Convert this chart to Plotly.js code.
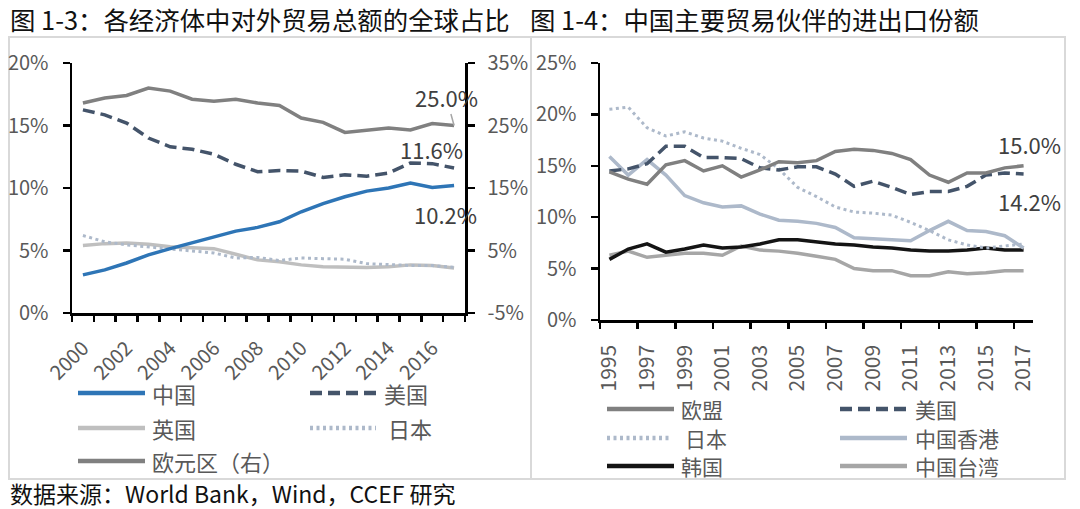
<!DOCTYPE html>
<html><head><meta charset="utf-8">
<script src="https://cdn.plot.ly/plotly-3.0.1.min.js"></script>
<style>html,body{margin:0;padding:0;background:#fff}</style>
</head><body><div id="chart" style="width:1080px;height:509px"></div>
<script>
// ---------- Data (values in %) ----------
const years1 = [2000,2001,2002,2003,2004,2005,2006,2007,2008,2009,2010,2011,2012,2013,2014,2015,2016,2017];
const china  = [3.05,3.45,4.0,4.65,5.15,5.6,6.1,6.55,6.85,7.3,8.1,8.75,9.3,9.75,10.0,10.4,10.05,10.2];
const usa1   = [16.25,15.85,15.2,14.0,13.3,13.1,12.7,11.9,11.3,11.4,11.35,10.85,11.05,10.95,11.2,12.0,11.95,11.6];
const uk     = [5.4,5.55,5.6,5.5,5.3,5.2,5.15,4.7,4.25,4.1,3.85,3.7,3.65,3.65,3.7,3.85,3.8,3.6];
const japan1 = [6.2,5.7,5.45,5.3,5.1,5.0,4.8,4.4,4.45,4.2,4.4,4.35,4.3,3.95,3.85,3.8,3.8,3.65];
const euro   = [28.6,29.4,29.8,31.0,30.5,29.2,28.9,29.2,28.6,28.2,26.2,25.5,23.9,24.2,24.6,24.3,25.3,25.0];
const names1 = ['中国','美国','英国','日本','欧元区（右）'];
const xLabels1 = ['2000','2002','2004','2006','2008','2010','2012','2014','2016'];
const yLabels1 = ['0%','5%','10%','15%','20%'];
const y2Labels1 = ['-5%','5%','15%','25%','35%'];

const years2 = [1995,1996,1997,1998,1999,2000,2001,2002,2003,2004,2005,2006,2007,2008,2009,2010,2011,2012,2013,2014,2015,2016,2017];
const eu     = [14.4,13.7,13.2,15.1,15.5,14.5,15.0,13.9,14.6,15.4,15.3,15.5,16.4,16.6,16.5,16.2,15.6,14.1,13.4,14.3,14.3,14.8,15.0];
const usa2   = [14.5,14.7,15.2,16.9,16.9,15.8,15.8,15.7,14.8,14.6,14.9,14.9,14.2,13.0,13.5,12.9,12.2,12.5,12.5,13.0,14.1,14.3,14.2];
const japan2 = [20.5,20.7,18.7,17.9,18.3,17.7,17.4,16.7,16.1,14.7,12.9,12.0,11.0,10.5,10.4,10.2,9.5,8.7,7.8,7.3,7.0,7.2,7.4];
const hk     = [15.9,14.1,15.6,14.1,12.1,11.4,11.0,11.1,10.3,9.7,9.6,9.4,9.0,8.0,7.9,7.8,7.7,8.7,9.6,8.7,8.6,8.2,7.0];
const korea  = [5.9,6.9,7.4,6.6,6.9,7.3,7.0,7.1,7.4,7.8,7.8,7.6,7.4,7.3,7.1,7.0,6.8,6.7,6.7,6.8,7.0,6.8,6.8];
const taiwan = [6.3,6.7,6.1,6.3,6.5,6.5,6.3,7.2,6.8,6.7,6.5,6.2,5.9,5.0,4.8,4.8,4.3,4.3,4.7,4.5,4.6,4.8,4.8];
const names2 = ['欧盟','美国','日本','中国香港','韩国','中国台湾'];
const xLabels2 = ['1995','1997','1999','2001','2003','2005','2007','2009','2011','2013','2015','2017'];
const yLabels2 = ['0%','5%','10%','15%','20%','25%'];

const title1 = '图 1-3：各经济体中对外贸易总额的全球占比';
const title2 = '图 1-4：中国主要贸易伙伴的进出口份额';
const source = '数据来源：World Bank，Wind，CCEF 研究';

// ---------- Styling ----------
const W = 1080, H = 509;
const FONT = '"Noto Sans CJK SC", "Noto Sans", sans-serif';
const TICKC = '#595959';
const px = v => v / W, py = v => 1 - v / H;
const DASH = '12px,6px', DOT = '3px,3.5px';

const st = {
  china:  {color:'#2e75b6', dash:'solid'},
  usa:    {color:'#44546a', dash:DASH},
  uk:     {color:'#bfbfbf', dash:'solid'},
  japan:  {color:'#adb9ca', dash:DOT},
  euro:   {color:'#808080', dash:'solid'},
  hk:     {color:'#adb9ca', dash:'solid'},
  korea:  {color:'#141414', dash:'solid'},
  taiwan: {color:'#a6a6a6', dash:'solid'}
};

function line(x, y, s, xa, ya, name, w) {
  return {x:x, y:y, xaxis:xa, yaxis:ya, name:name, mode:'lines', type:'scatter',
          line:{color:s.color, width:w || 3.5, dash:s.dash}, showlegend:false, hoverinfo:'x+y+name'};
}

const data = [
  line(years1, euro, st.euro, 'x', 'y2', names1[4]),
  line(years1, uk, st.uk, 'x', 'y', names1[2]),
  line(years1, japan1, st.japan, 'x', 'y', names1[3], 3),
  line(years1, usa1, st.usa, 'x', 'y', names1[1]),
  line(years1, china, st.china, 'x', 'y', names1[0]),

  line(years2, taiwan, st.taiwan, 'x2', 'y3', names2[5]),
  line(years2, korea, st.korea, 'x2', 'y3', names2[4]),
  line(years2, hk, st.hk, 'x2', 'y3', names2[3]),
  line(years2, japan2, st.japan, 'x2', 'y3', names2[2], 3),
  line(years2, usa2, st.usa, 'x2', 'y3', names2[1]),
  line(years2, eu, st.euro, 'x2', 'y3', names2[0])
];

const tickFont = {family:FONT, size:20, color:TICKC};
const bound1 = years1.map(v => v - 0.5).concat([years1[years1.length-1] + 0.5]);
const bound2 = years2.filter((v,i) => i % 2 === 0).map(v => v - 0.5);

const yAxisCommon = {
  showline:true, linecolor:'#000', linewidth:2.5, showgrid:false, zeroline:false,
  ticks:'outside', ticklen:7, tickwidth:2.5, tickcolor:'#000', tickmode:'array',
  tickfont:{family:FONT, size:20, color:TICKC}, ticklabelstandoff:10, fixedrange:true
};

const layout = {
  width:W, height:H, margin:{l:0, r:0, t:0, b:0},
  paper_bgcolor:'#fff', plot_bgcolor:'rgba(0,0,0,0)', showlegend:false,
  xaxis:{
    domain:[px(72), px(465)], anchor:'y', range:[1999.5, 2017.5],
    tickmode:'array', tickvals:xLabels1.map(Number), ticktext:xLabels1, tickangle:-45,
    ticks:'outside', ticklen:6, tickcolor:'rgba(0,0,0,0)', tickfont:tickFont, ticklabelstandoff:7,
    showline:true, linecolor:'#000', linewidth:2.5, showgrid:false, zeroline:false, fixedrange:true,
    minor:{tickmode:'array', tickvals:bound1, ticks:'outside', ticklen:6, tickwidth:2.5, tickcolor:'#000', showgrid:false}
  },
  yaxis:Object.assign({}, yAxisCommon, {
    domain:[py(313), py(63)], anchor:'x', range:[0, 20],
    tickvals:yLabels1.map(parseFloat), ticktext:yLabels1
  }),
  yaxis2:Object.assign({}, yAxisCommon, {
    overlaying:'y', side:'right', anchor:'x', range:[-5, 35],
    tickvals:y2Labels1.map(parseFloat), ticktext:y2Labels1, ticklabelstandoff:9
  }),
  xaxis2:{
    domain:[px(600), px(1033)], anchor:'y3', range:[1994.5, 2017.5],
    tickmode:'array', tickvals:xLabels2.map(Number), ticktext:xLabels2, tickangle:-90,
    ticks:'outside', ticklen:6, tickcolor:'rgba(0,0,0,0)', tickfont:{family:FONT, size:21, color:TICKC}, ticklabelstandoff:8,
    showline:true, linecolor:'#000', linewidth:2.5, showgrid:false, zeroline:false, fixedrange:true,
    minor:{tickmode:'array', tickvals:bound2, ticks:'outside', ticklen:6, tickwidth:2.5, tickcolor:'#000', showgrid:false}
  },
  yaxis3:Object.assign({}, yAxisCommon, {
    domain:[py(320), py(63)], anchor:'x2', range:[0, 25],
    tickvals:yLabels2.map(parseFloat), ticktext:yLabels2
  }),
  shapes:[], annotations:[]
};

// panel frames
layout.shapes.push({type:'rect', xref:'paper', yref:'paper', x0:px(9), x1:px(531), y0:py(479), y1:py(37),
  line:{color:'#d9d9d9', width:2}, layer:'below'});
layout.shapes.push({type:'rect', xref:'paper', yref:'paper', x0:px(531), x1:px(1065), y0:py(479), y1:py(37),
  line:{color:'#d9d9d9', width:2}, layer:'below'});

// titles & source
function txt(text, x, y, size, color, anchor) {
  layout.annotations.push({text:text, xref:'paper', yref:'paper', x:px(x), y:py(y), xanchor:anchor || 'left',
    yanchor:'middle', showarrow:false, borderpad:0, font:{family:FONT, size:size, color:color}});
}
txt(title1, 9, 19, 25.4, '#111');
txt(title2, 529, 19, 25.4, '#111');
txt(source, 9, 493, 23, '#111');

// legends (drawn as sample lines + text)
function legendItem(name, s, x0, x1, tx, y, fs) {
  layout.shapes.push({type:'line', xref:'paper', yref:'paper', x0:px(x0), x1:px(x1), y0:py(y), y1:py(y),
    line:{color:s.color, width:4.5, dash:s.dash}});
  txt(name, tx, y, fs, TICKC);
}
const L1c = [[78,145,151],[310,379,383]], L1r = [393,428,461];
legendItem(names1[0], st.china, ...L1c[0], L1r[0], 22);
legendItem(names1[1], st.usa,   ...L1c[1], L1r[0], 22);
legendItem(names1[2], st.uk,    ...L1c[0], L1r[1], 22);
legendItem(names1[3], st.japan, 310, 376, 387, L1r[1], 22);
legendItem(names1[4], st.euro,  ...L1c[0], L1r[2], 22);

const L2c = [[607,674,680],[840,907,914]], L2r = [409,438,466];
legendItem(names2[0], st.euro,  ...L2c[0], L2r[0], 21);
legendItem(names2[1], st.usa,   ...L2c[1], L2r[0], 21);
legendItem(names2[2], st.japan, 607, 671, 684, L2r[1], 21);
legendItem(names2[3], st.hk,    ...L2c[1], L2r[1], 21);
legendItem(names2[4], st.korea, ...L2c[0], L2r[2], 21);
legendItem(names2[5], st.taiwan,...L2c[1], L2r[2], 21);

// value labels
const lab = {font:{family:FONT, size:22, color:'#404040'}, showarrow:false};
const n1 = years1.length - 1, n2 = years2.length - 1;
layout.annotations.push({text:euro[n1].toFixed(1)+'%', xref:'x', yref:'y2', x:years1[n1], y:euro[n1],
  showarrow:true, arrowhead:0, arrowwidth:1.5, arrowcolor:'#a6a6a6', ax:-8, ay:-29, standoff:0,
  font:{family:FONT, size:22, color:'#404040'}});
layout.annotations.push(Object.assign({text:usa1[n1].toFixed(1)+'%', xref:'x', yref:'y', x:years1[n1], y:usa1[n1],
  xshift:-23, yshift:19}, lab));
layout.annotations.push(Object.assign({text:china[n1].toFixed(1)+'%', xref:'x', yref:'y', x:years1[n1], y:china[n1],
  xshift:-9, yshift:-28}, lab));
layout.annotations.push(Object.assign({text:eu[n2].toFixed(1)+'%', xref:'x2', yref:'y3', x:years2[n2], y:eu[n2],
  xshift:6, yshift:22}, lab));
layout.annotations.push(Object.assign({text:usa2[n2].toFixed(1)+'%', xref:'x2', yref:'y3', x:years2[n2], y:usa2[n2],
  xshift:6, yshift:-27}, lab));

Plotly.newPlot('chart', data, layout, {staticPlot:true, displayModeBar:false});
</script></body></html>
